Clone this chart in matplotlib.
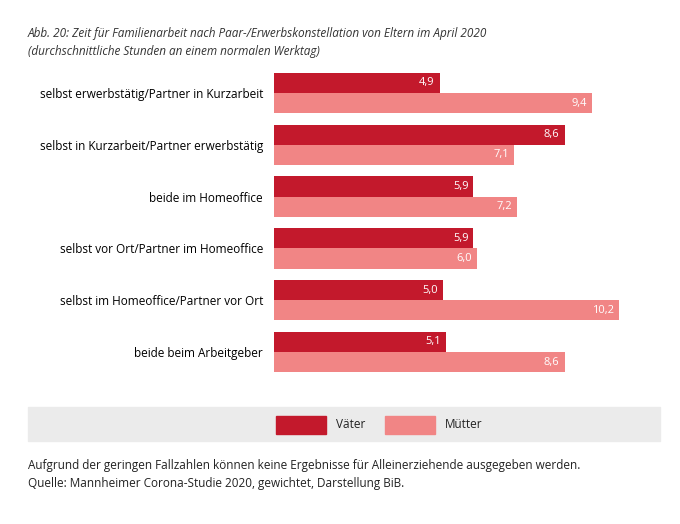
import matplotlib.pyplot as plt
from matplotlib.patches import Rectangle

plt.rcParams['font.family'] = ['Open Sans', 'DejaVu Sans']

categories = [
    "selbst erwerbstätig/Partner in Kurzarbeit",
    "selbst in Kurzarbeit/Partner erwerbstätig",
    "beide im Homeoffice",
    "selbst vor Ort/Partner im Homeoffice",
    "selbst im Homeoffice/Partner vor Ort",
    "beide beim Arbeitgeber",
]
vaeter = [4.9, 8.6, 5.9, 5.9, 5.0, 5.1]
muetter = [9.4, 7.1, 7.2, 6.0, 10.2, 8.6]

DARK = "#c3192c"
LIGHT = "#f18585"
W, H = 680, 524

fig = plt.figure(figsize=(W / 100, H / 100), dpi=100)


def px(x0, y0, x1, y1):
    return [x0 / W, 1 - y1 / H, (x1 - x0) / W, (y1 - y0) / H]


ax = fig.add_axes(px(274, 67, 660, 378))
bh = 0.39
ys = list(range(len(categories)))
for i in ys:
    ax.barh(i - bh / 2, vaeter[i], height=bh, color=DARK)
    ax.barh(i + bh / 2, muetter[i], height=bh, color=LIGHT)
    ax.text(vaeter[i] - 0.15, i - bh / 2, f"{vaeter[i]:.1f}".replace(".", ","),
            color="white", ha="right", va="center", fontsize=8)
    ax.text(muetter[i] - 0.15, i + bh / 2, f"{muetter[i]:.1f}".replace(".", ","),
            color="white", ha="right", va="center", fontsize=8)
ax.set_xlim(0, 11.42)
ax.set_ylim(5.5, -0.5)
ax.set_yticks(ys)
ax.set_yticklabels(categories, fontsize=8.5)
ax.tick_params(length=0, pad=8)
ax.set_xticks([])
for s in ax.spines.values():
    s.set_visible(False)

fig.text(28 / W, 1 - 34 / H, "Abb. 20: Zeit für Familienarbeit nach Paar-/Erwerbskonstellation von Eltern im April 2020",
         fontsize=8.5, style="italic", color="#333333", va="center")
fig.text(28 / W, 1 - 51 / H, "(durchschnittliche Stunden an einem normalen Werktag)",
         fontsize=8.5, style="italic", color="#333333", va="center")

# legend band
fig.patches.append(Rectangle((28 / W, 1 - 441 / H), 632 / W, 34 / H,
                             transform=fig.transFigure, color="#ebebeb", zorder=0))
fig.patches.append(Rectangle((276 / W, 1 - 434 / H), 50 / W, 18 / H,
                             transform=fig.transFigure, color=DARK))
fig.patches.append(Rectangle((385 / W, 1 - 434 / H), 50 / W, 18 / H,
                             transform=fig.transFigure, color=LIGHT))
fig.text(336 / W, 1 - 425 / H, "Väter", fontsize=8.5, va="center", color="#222222")
fig.text(445 / W, 1 - 425 / H, "Mütter", fontsize=8.5, va="center", color="#222222")

fig.text(28 / W, 1 - 465 / H,
         "Aufgrund der geringen Fallzahlen können keine Ergebnisse für Alleinerziehende ausgegeben werden.",
         fontsize=8.5, va="center", color="#222222")
fig.text(28 / W, 1 - 483 / H, "Quelle: Mannheimer Corona-Studie 2020, gewichtet, Darstellung BiB.",
         fontsize=8.5, va="center", color="#222222")

fig.savefig("out.png", dpi=100)
